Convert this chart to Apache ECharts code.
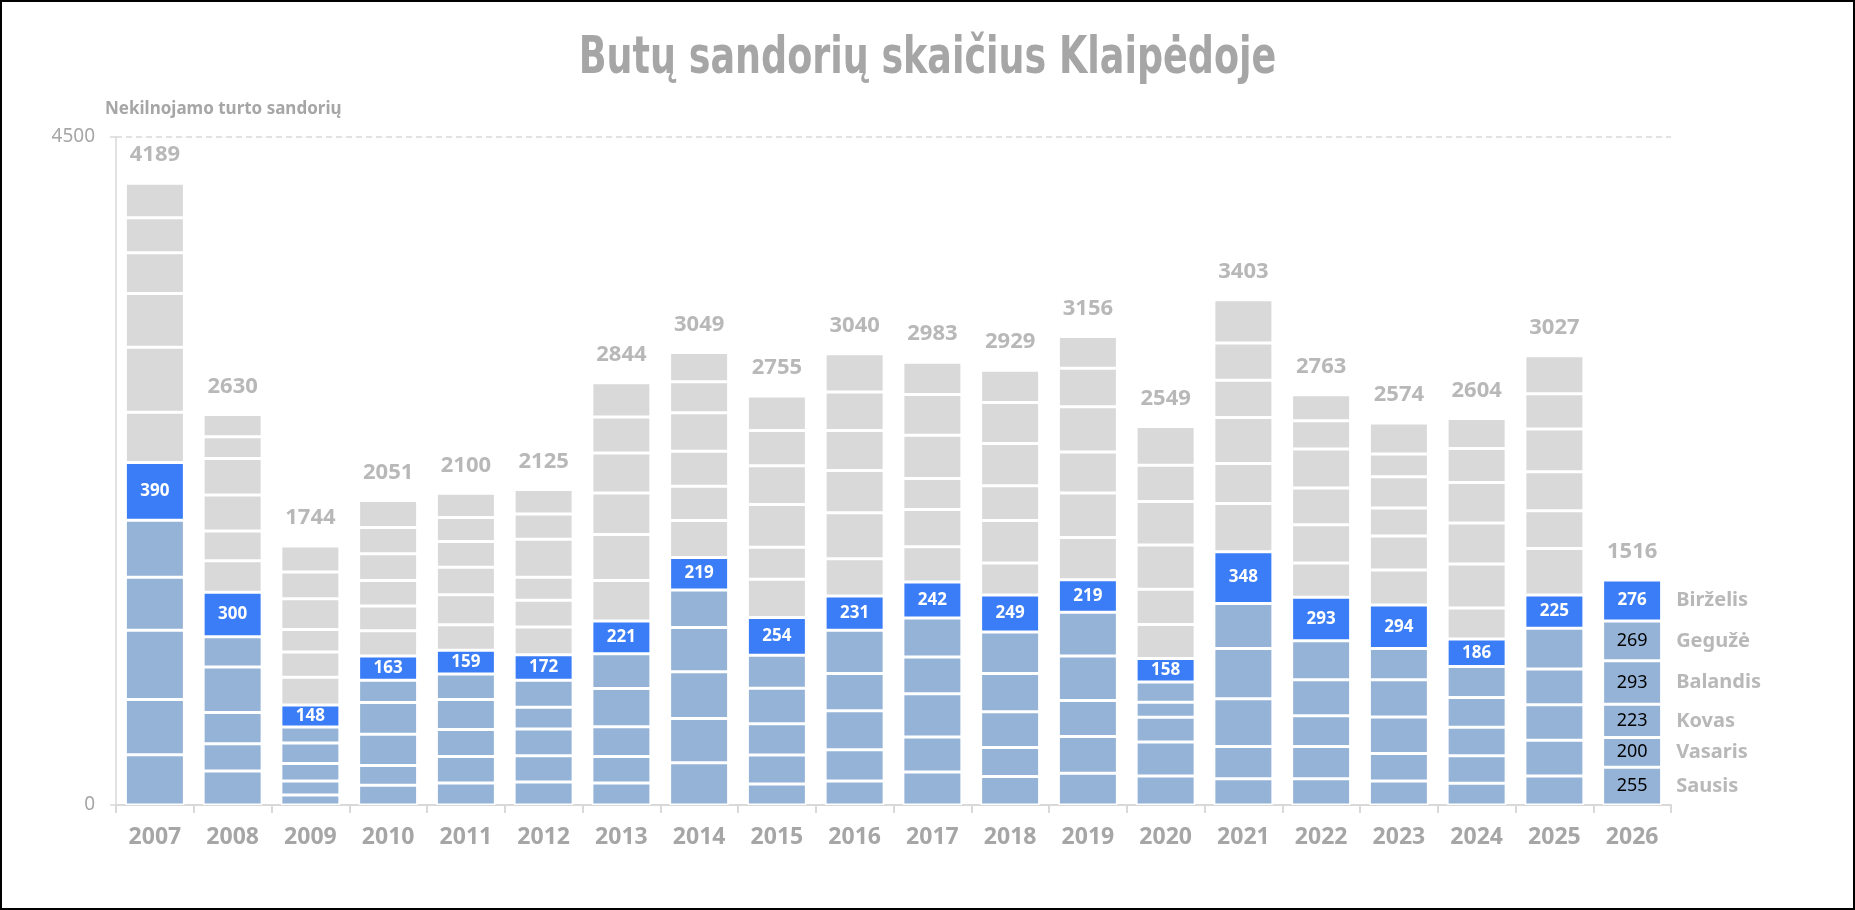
<!DOCTYPE html>
<html>
<head>
<meta charset="utf-8">
<script src="https://cdn.jsdelivr.net/npm/echarts@6/dist/echarts.min.js"></script>
<style>
  html, body { margin: 0; padding: 0; background: #fff; }
  #chart { width: 1855px; height: 910px; }
</style>
</head>
<body>
<div id="chart"></div>
<script>
// metai
var years = ['2007','2008','2009','2010','2011','2012','2013','2014','2015','2016',
             '2017','2018','2019','2020','2021','2022','2023','2024','2025','2026'];

// mėnesiniai sandoriai
var sausis    = [338,229,68,133,149,155,149,285,142,161,223,192,214,195,177,177,161,146,195,255];
var vasaris   = [372,183,93,133,177,177,177,297,195,211,235,195,248,229,217,217,186,186,242,200];
var kovas     = [468,211,118,211,183,180,201,316,211,263,291,242,242,167,322,207,245,192,238,223];
var balandis  = [356,307,139,214,201,146,257,297,238,251,248,257,300,102,338,242,251,201,242,293];
var geguze    = [384,204,108,149,173,183,235,254,223,291,263,279,294,136,304,263,211,208,273,269];
var birzelis  = [390,300,148,163,159,172,221,219,254,231,242,249,219,158,348,293,294,186,225,276];
var liepa     = [338,211,186,170,173,186,273,248,257,251,238,217,285,229,325,232,235,208,313,null];
var rugpjutis = [437,201,170,167,201,180,310,232,217,310,251,285,300,238,269,257,229,297,254,null];
var rugsejis  = [362,242,152,173,186,155,279,235,288,285,208,235,276,297,310,248,189,276,263,null];
var spalis    = [276,246,207,180,173,257,269,260,260,269,291,285,304,294,251,263,211,273,288,null];
var lapkritis = [235,146,180,177,161,170,242,208,238,260,276,276,260,244,251,189,152,229,238,null];
var gruodis   = [233,150,175,181,164,164,231,198,232,257,217,217,214,260,291,175,210,202,256,null];

// metų sumos
var totals = [4189,2630,1744,2051,2100,2125,2844,3049,2755,3040,2983,2929,3156,2549,3403,2763,2574,2604,3027,1516];

var monthNames = ['Sausis','Vasaris','Kovas','Balandis','Gegužė','Birželis',
                  'Liepa','Rugpjūtis','Rugsėjis','Spalis','Lapkritis','Gruodis'];
var monthData = [sausis, vasaris, kovas, balandis, geguze, birzelis,
                 liepa, rugpjutis, rugsejis, spalis, lapkritis, gruodis];

var yTicks = [0, 4500];

var grey = '#A6A6A6';
var lightBlue = '#95B3D7';
var brightBlue = '#3A7DF6';
var lightGrey = '#D9D9D9';
var font = "'Noto Sans', sans-serif";

var myChart = echarts.init(document.getElementById('chart'));

var last = years.length - 1;
var series = [];
monthData.forEach(function (arr, m) {
    var color = m < 5 ? lightBlue : (m === 5 ? brightBlue : lightGrey);
    var data = arr.map(function (v, i) {
        if (m < 5 && i === last) {
            return {
                value: v,
                label: { show: true, color: '#000', fontWeight: 'normal', fontSize: 18, fontFamily: font }
            };
        }
        return v;
    });
    series.push({
        name: monthNames[m],
        type: 'bar',
        stack: 'metai',
        barWidth: 59,
        data: data,
        itemStyle: { color: color, borderColor: '#fff', borderWidth: 1.5 },
        label: {
            show: m === 5,
            position: 'inside',
            color: '#fff',
            fontWeight: 'bold',
            fontSize: 17,
            fontFamily: font
        },
        emphasis: { disabled: true },
        animation: false
    });
});

// sumos virš stulpelių
series.push({
    type: 'scatter',
    symbolSize: 0,
    silent: true,
    data: totals.map(function (t, i) { return [years[i], t]; }),
    label: {
        show: true,
        position: 'top',
        distance: 17,
        formatter: function (p) { return p.value[1]; },
        color: grey,
        fontWeight: 'bold',
        fontSize: 22,
        fontFamily: font
    },
    z: 5,
    animation: false
});

// mėnesių pavadinimai šalia paskutinio stulpelio
var cum = 0;
var monthLabels = [];
for (var m = 0; m < 6; m++) {
    var v = monthData[m][last];
    monthLabels.push({ value: [years[last], cum + v / 2], name: monthNames[m] });
    cum += v;
}
series.push({
    type: 'scatter',
    symbolSize: 0,
    silent: true,
    data: monthLabels,
    label: {
        show: true,
        position: 'right',
        distance: 44,
        formatter: '{b}',
        color: grey,
        fontWeight: 'bold',
        fontSize: 20,
        fontFamily: font
    },
    z: 5,
    animation: false
});

var option = {
    backgroundColor: '#fff',
    animation: false,
    title: [
        {
            text: 'Nekilnojamo turto sandorių',
            left: 100,
            top: 96,
            textStyle: { color: grey, fontSize: 17, fontWeight: 'bold', fontFamily: font }
        }
    ],
    grid: { left: 116, right: 184, top: 137, bottom: 105 },
    xAxis: {
        type: 'category',
        data: years,
        axisLine: { lineStyle: { color: lightGrey, width: 2 } },
        axisTick: { show: true, length: 8, lineStyle: { color: lightGrey, width: 2 } },
        axisLabel: { color: grey, fontSize: 23, fontWeight: 'bold', fontFamily: font, margin: 21 }
    },
    yAxis: {
        type: 'value',
        min: yTicks[0],
        max: yTicks[1],
        interval: yTicks[1] - yTicks[0],
        axisLine: { show: true, lineStyle: { color: lightGrey, width: 1.5 } },
        axisTick: { show: true, length: 6, lineStyle: { color: lightGrey, width: 1.5 } },
        axisLabel: {
            color: grey,
            fontSize: 19,
            fontFamily: font,
            margin: 21,
            formatter: function (v) { return String(v); }
        },
        splitLine: { show: true, lineStyle: { color: lightGrey, type: [6, 4], width: 1.5 } }
    },
    graphic: [
        {
            type: 'text',
            x: 927.5,
            y: 59,
            scaleX: 0.78,
            silent: true,
            style: {
                text: 'Butų sandorių skaičius Klaipėdoje',
                fill: grey,
                font: "bold 52px 'DejaVu Sans Condensed', 'Noto Sans', sans-serif",
                textAlign: 'center',
                textVerticalAlign: 'middle'
            }
        },
        {
            type: 'rect',
            shape: { x: 0, y: 0, width: 1855, height: 910 },
            style: { fill: 'none', stroke: '#000', lineWidth: 4 },
            silent: true,
            z: 100
        }
    ],
    series: series
};

myChart.setOption(option);
</script>
</body>
</html>
